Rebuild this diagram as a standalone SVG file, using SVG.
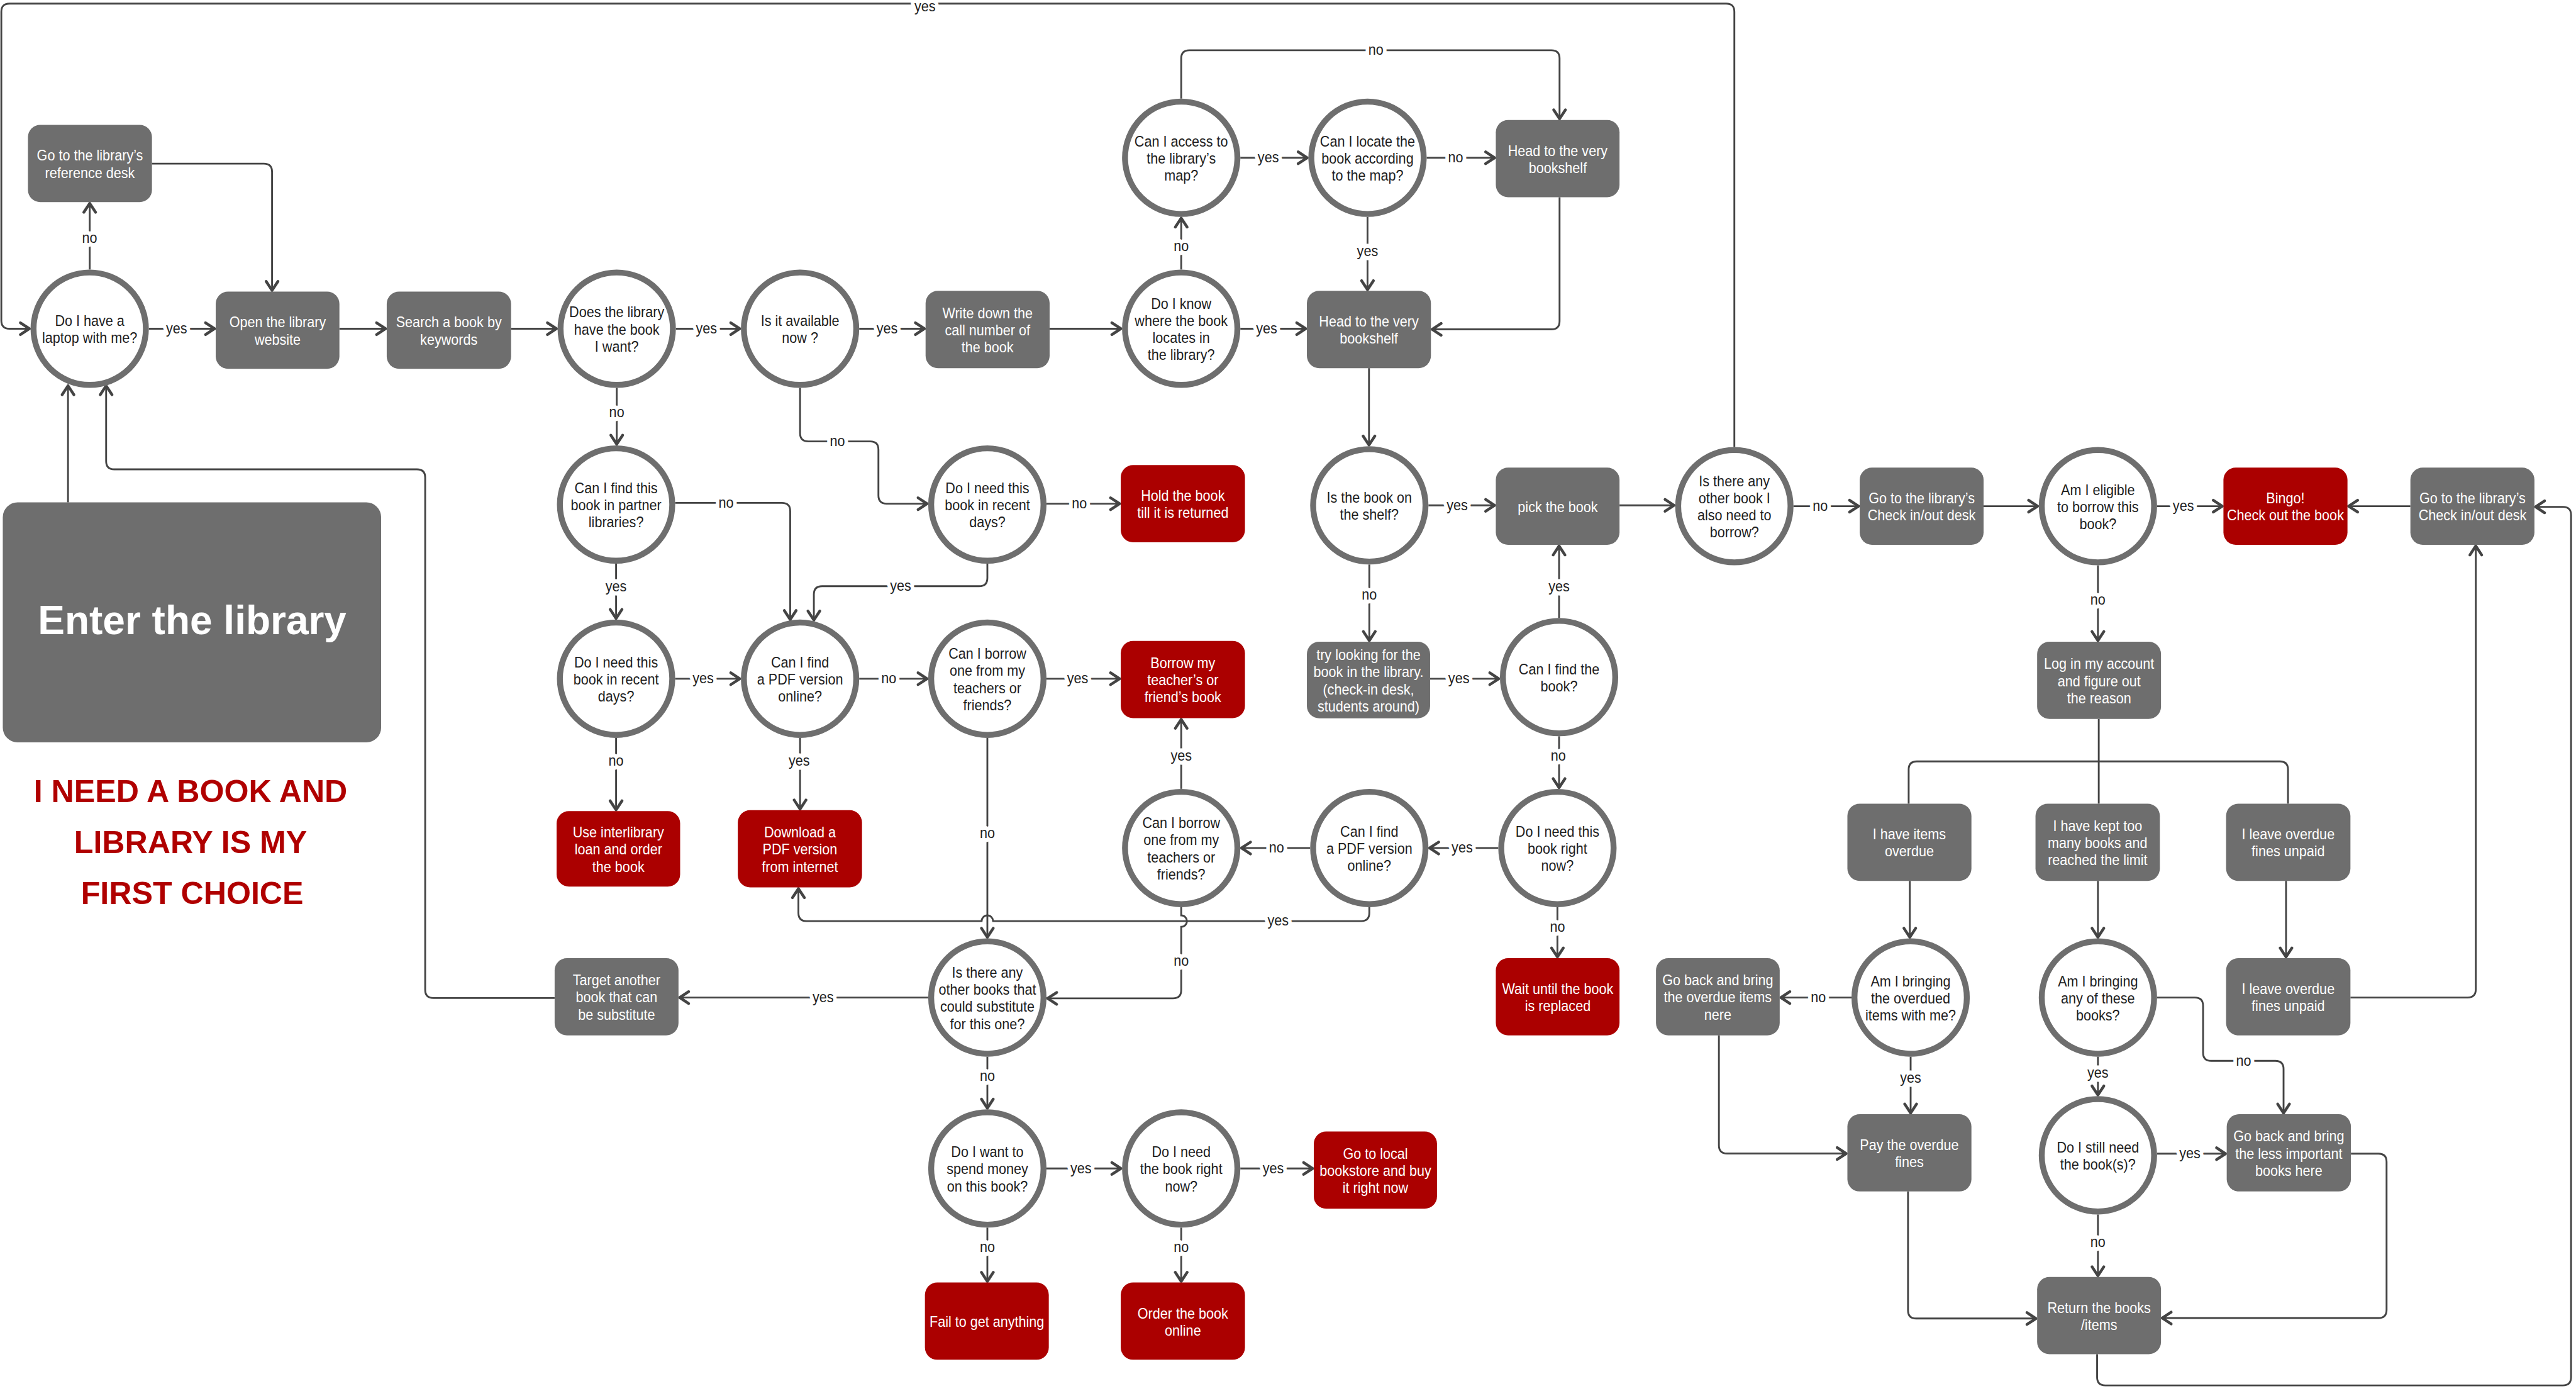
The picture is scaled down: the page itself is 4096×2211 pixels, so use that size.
<svg xmlns="http://www.w3.org/2000/svg" width="4096" height="2211" viewBox="0 0 4096 2211">
<style>
.c{fill:none;stroke:#444;stroke-width:1.1;marker-end:url(#ah)}
.p{fill:none;stroke:#444;stroke-width:1.1}
.g{fill:#6e6e6e}
.r{fill:#ab0000}
.q{fill:#fff;stroke:#6e6e6e;stroke-width:3.6}
text{font-family:"Liberation Sans",Arial,sans-serif;font-size:9.4px;text-anchor:middle}
.w,.k,.lb{transform-box:fill-box;transform-origin:center;transform:scaleX(0.88)}
.w{fill:#fff}
.k{fill:#1e1e1e}
.lb{fill:#222;stroke:#fff;stroke-width:5;stroke-linejoin:round;paint-order:stroke}
.t1{font-weight:bold;font-size:24.5px;fill:#fff}
.t2{font-weight:bold;font-size:19.2px;fill:#b00000}
</style>
<defs>
<marker id="ah" markerUnits="userSpaceOnUse" markerWidth="12" markerHeight="12" viewBox="-3 -6 12 12" refX="6.2" refY="0" orient="auto" overflow="visible">
<path d="M0,-3.6 L5.5,0 L0,3.6" fill="none" stroke="#444" stroke-width="1.7" stroke-linejoin="round" stroke-linecap="round"/>
</marker>
</defs>
<rect width="4096" height="2211" fill="#fff"/>
<g transform="scale(2.61224)">
<g id="connectors">
<path class="c" d="M90.6,200 H131.3"/>
<path class="c" d="M54.6,164 V123"/>
<path class="c" d="M92.5,99.6 H160.6 Q165.6,99.6 165.6,104.6 V177.4"/>
<path class="c" d="M206.6,200 H235.4"/>
<path class="c" d="M311.1,200 H339.4"/>
<path class="c" d="M411.4,200 H451"/>
<path class="c" d="M523,200 H563.4"/>
<path class="c" d="M638.9,200 H683"/>
<path class="c" d="M719,164 V132"/>
<path class="c" d="M755,96 H796.4"/>
<path class="c" d="M719,60 V35.6 Q719,30.6 724,30.6 H944.3 Q949.3,30.6 949.3,35.6 V73"/>
<path class="c" d="M868.4,96 H910.5"/>
<path class="c" d="M832.4,132 V177"/>
<path class="c" d="M755,200 H795.5"/>
<path class="c" d="M949.3,120 V195.4 Q949.3,200.4 944.3,200.4 H871"/>
<path class="c" d="M833.3,224 V271.5"/>
<path class="c" d="M869.5,307.5 H910.5"/>
<path class="c" d="M985.8,307.5 H1019.7"/>
<path class="c" d="M1055.7,272 V7.2 Q1055.7,2.2 1050.7,2.2 H5.8 Q0.8,2.2 0.8,7.2 V195 Q0.8,200 5.8,200 H18.6"/>
<path class="c" d="M1091.7,308 H1132"/>
<path class="c" d="M1207.4,308 H1241"/>
<path class="c" d="M1313,308 H1353.4"/>
<path class="c" d="M1467.2,308 H1428.9"/>
<path class="c" d="M1277,344 V390.5"/>
<path class="p" d="M1277.5,437.5 V489"/>
<path class="p" d="M1161.8,489 V468.3 Q1161.8,463.3 1166.8,463.3 H1387.7 Q1392.7,463.3 1392.7,468.3 V489"/>
<path class="c" d="M1162.5,536 V571"/>
<path class="c" d="M1277,536 V571"/>
<path class="c" d="M1391.5,536 V583"/>
<path class="c" d="M1127,607 H1083.3"/>
<path class="c" d="M1163,643 V678"/>
<path class="c" d="M1046.3,630 V696.9 Q1046.3,701.9 1051.3,701.9 H1124.5"/>
<path class="c" d="M1161.4,725 V797.3 Q1161.4,802.3 1166.4,802.3 H1240"/>
<path class="c" d="M1277,643 V667"/>
<path class="c" d="M1313,607 H1336 Q1341,607 1341,612 V640.5 Q1341,645.5 1346,645.5 H1385 Q1390,645.5 1390,650.5 V678"/>
<path class="c" d="M1313,702 H1355.4"/>
<path class="c" d="M1431,702 H1447.7 Q1452.7,702 1452.7,707 V797 Q1452.7,802 1447.7,802 H1315.4"/>
<path class="c" d="M1277,739 V777"/>
<path class="c" d="M1276.5,824 V838 Q1276.5,843 1281.5,843 H1560 Q1565,843 1565,838 V313.4 Q1565,308.4 1560,308.4 H1542.7"/>
<path class="c" d="M1430.7,607 H1502 Q1507,607 1507,602 V331.5"/>
<path class="c" d="M375.4,236 V271"/>
<path class="c" d="M375,343 V377"/>
<path class="c" d="M411,306 H476 Q481,306 481,311 V377.7"/>
<path class="c" d="M411,413 H451"/>
<path class="c" d="M375,449 V493.5"/>
<path class="c" d="M487,236 V263.6 Q487,268.6 492,268.6 H529.7 Q534.7,268.6 534.7,273.6 V301.5 Q534.7,306.5 539.7,306.5 H565"/>
<path class="c" d="M637,306.5 H682.2"/>
<path class="c" d="M601,343 V351.7 Q601,356.7 596,356.7 H500.4 Q495.4,356.7 495.4,361.7 V378"/>
<path class="c" d="M523,413 H565"/>
<path class="c" d="M637,413 H682.2"/>
<path class="c" d="M487,449 V493"/>
<path class="c" d="M601,449 V571"/>
<path class="c" d="M833.5,552 V555.5 Q833.5,560.5 828.5,560.5 H604.5 A3.5,3.5 0 0 0 597.5,560.5 H491 Q486,560.5 486,555.5 V540"/>
<path class="c" d="M719,552 V557 A3.5,3.5 0 0 1 719,564 V602.5 Q719,607.5 714,607.5 H637"/>
<path class="c" d="M719,480 V437"/>
<path class="c" d="M797.5,516 H755"/>
<path class="c" d="M912,516 H869.5"/>
<path class="c" d="M949,448 V480"/>
<path class="c" d="M948,552 V583"/>
<path class="c" d="M949,376 V331.5"/>
<path class="c" d="M833.5,343.5 V390.5"/>
<path class="c" d="M870.5,413 H913"/>
<path class="c" d="M565,607 H413"/>
<path class="c" d="M337.6,607.3 H263.8 Q258.8,607.3 258.8,602.3 V290.6 Q258.8,285.6 253.8,285.6 H69.6 Q64.6,285.6 64.6,280.6 V234"/>
<path class="c" d="M41.4,305.7 V234"/>
<path class="c" d="M601,643 V675"/>
<path class="c" d="M637,711 H683"/>
<path class="c" d="M755,711 H799.7"/>
<path class="c" d="M601,747 V780.4"/>
<path class="c" d="M719,747 V780.4"/>
<text class="lb" x="107.5" y="202.8">yes</text>
<text class="lb" x="54.6" y="147.8">no</text>
<text class="lb" x="430" y="202.8">yes</text>
<text class="lb" x="540" y="202.8">yes</text>
<text class="lb" x="719" y="152.8">no</text>
<text class="lb" x="772" y="98.8">yes</text>
<text class="lb" x="837.5" y="33.4">no</text>
<text class="lb" x="886" y="98.8">no</text>
<text class="lb" x="832.4" y="155.8">yes</text>
<text class="lb" x="771" y="202.8">yes</text>
<text class="lb" x="887" y="310.3">yes</text>
<text class="lb" x="563" y="7">yes</text>
<text class="lb" x="1108" y="310.8">no</text>
<text class="lb" x="1329" y="310.8">yes</text>
<text class="lb" x="1277" y="367.8">no</text>
<text class="lb" x="1106.8" y="609.8">no</text>
<text class="lb" x="1163" y="658.8">yes</text>
<text class="lb" x="1277" y="655.8">yes</text>
<text class="lb" x="1365.7" y="648.3">no</text>
<text class="lb" x="1333" y="704.8">yes</text>
<text class="lb" x="1277" y="758.8">no</text>
<text class="lb" x="375.4" y="253.8">no</text>
<text class="lb" x="375" y="359.8">yes</text>
<text class="lb" x="442" y="308.8">no</text>
<text class="lb" x="428" y="415.8">yes</text>
<text class="lb" x="375" y="465.8">no</text>
<text class="lb" x="509.7" y="271.4">no</text>
<text class="lb" x="657" y="309.3">no</text>
<text class="lb" x="548.2" y="359.5">yes</text>
<text class="lb" x="541" y="415.8">no</text>
<text class="lb" x="656" y="415.8">yes</text>
<text class="lb" x="486.5" y="465.8">yes</text>
<text class="lb" x="601" y="509.8">no</text>
<text class="lb" x="778" y="563.3">yes</text>
<text class="lb" x="719" y="587.8">no</text>
<text class="lb" x="719" y="462.8">yes</text>
<text class="lb" x="777" y="518.8">no</text>
<text class="lb" x="890" y="518.8">yes</text>
<text class="lb" x="948.5" y="462.8">no</text>
<text class="lb" x="948" y="566.8">no</text>
<text class="lb" x="949" y="359.8">yes</text>
<text class="lb" x="833.5" y="364.8">no</text>
<text class="lb" x="888" y="415.8">yes</text>
<text class="lb" x="501" y="609.8">yes</text>
<text class="lb" x="601" y="657.8">no</text>
<text class="lb" x="658" y="713.8">yes</text>
<text class="lb" x="775" y="713.8">yes</text>
<text class="lb" x="601" y="761.8">no</text>
<text class="lb" x="719" y="761.8">no</text>
</g>
<g id="enter"><rect class="g" x="1.7" y="305.7" width="230.3" height="146" rx="9"/><text class="t1" x="117" y="386">Enter the library</text></g>
<g id="title"><text class="t2" x="116" y="488">I NEED A BOOK AND</text><text class="t2" x="116" y="519">LIBRARY IS MY</text><text class="t2" x="117" y="550">FIRST CHOICE</text></g>
<g id="ref"><rect class="g" x="17" y="76" width="75.5" height="47" rx="7.5"/><text class="w" x="54.75" y="97.8">Go to the library’s<tspan x="54.75" dy="10.4">reference desk</tspan></text></g>
<g id="open"><rect class="g" x="131.3" y="177.4" width="75.3" height="47" rx="7.5"/><text class="w" x="169" y="199.2">Open the library<tspan x="169" dy="10.4">website</tspan></text></g>
<g id="search"><rect class="g" x="235.4" y="177.4" width="75.7" height="47" rx="7.5"/><text class="w" x="273.2" y="199.2">Search a book by<tspan x="273.2" dy="10.4">keywords</tspan></text></g>
<g id="write"><rect class="g" x="563.4" y="177" width="75.5" height="47" rx="7.5"/><text class="w" x="601.1" y="193.6">Write down the<tspan x="601.1" dy="10.4">call number of</tspan><tspan x="601.1" dy="10.4">the book</tspan></text></g>
<g id="headT"><rect class="g" x="910.5" y="73" width="75.3" height="47" rx="7.5"/><text class="w" x="948.2" y="94.8">Head to the very<tspan x="948.2" dy="10.4">bookshelf</tspan></text></g>
<g id="headM"><rect class="g" x="795.5" y="177" width="75.5" height="47" rx="7.5"/><text class="w" x="833.2" y="198.8">Head to the very<tspan x="833.2" dy="10.4">bookshelf</tspan></text></g>
<g id="pick"><rect class="g" x="910.5" y="284.5" width="75.3" height="47" rx="7.5"/><text class="w" x="948.2" y="311.5">pick the book</text></g>
<g id="ckA"><rect class="g" x="1132" y="284.5" width="75.4" height="47" rx="7.5"/><text class="w" x="1169.7" y="306.3">Go to the library’s<tspan x="1169.7" dy="10.4">Check in/out desk</tspan></text></g>
<g id="bingo"><rect class="r" x="1353.4" y="284.5" width="75.5" height="47" rx="7.5"/><text class="w" x="1391.1" y="306.3">Bingo!<tspan x="1391.1" dy="10.4">Check out the book</tspan></text></g>
<g id="ckB"><rect class="g" x="1467.2" y="284.5" width="75.5" height="47" rx="7.5"/><text class="w" x="1505" y="306.3">Go to the library’s<tspan x="1505" dy="10.4">Check in/out desk</tspan></text></g>
<g id="log"><rect class="g" x="1240" y="390.5" width="75.4" height="47" rx="7.5"/><text class="w" x="1277.7" y="407.1">Log in my account<tspan x="1277.7" dy="10.4">and figure out</tspan><tspan x="1277.7" dy="10.4">the reason</tspan></text></g>
<g id="items"><rect class="g" x="1124.5" y="489" width="75.5" height="47" rx="7.5"/><text class="w" x="1162.2" y="510.8">I have items<tspan x="1162.2" dy="10.4">overdue</tspan></text></g>
<g id="kept"><rect class="g" x="1239" y="489" width="75.7" height="47" rx="7.5"/><text class="w" x="1276.8" y="505.6">I have kept too<tspan x="1276.8" dy="10.4">many books and</tspan><tspan x="1276.8" dy="10.4">reached the limit</tspan></text></g>
<g id="leaveU"><rect class="g" x="1355" y="489" width="75.7" height="47" rx="7.5"/><text class="w" x="1392.8" y="510.8">I leave overdue<tspan x="1392.8" dy="10.4">fines unpaid</tspan></text></g>
<g id="goback1"><rect class="g" x="1008" y="583" width="75.3" height="47" rx="7.5"/><text class="w" x="1045.6" y="599.6">Go back and bring<tspan x="1045.6" dy="10.4">the overdue items</tspan><tspan x="1045.6" dy="10.4">nere</tspan></text></g>
<g id="pay"><rect class="g" x="1124.5" y="678" width="75.5" height="47" rx="7.5"/><text class="w" x="1162.2" y="699.8">Pay the overdue<tspan x="1162.2" dy="10.4">fines</tspan></text></g>
<g id="leaveL"><rect class="g" x="1355" y="583" width="75.7" height="47" rx="7.5"/><text class="w" x="1392.8" y="604.8">I leave overdue<tspan x="1392.8" dy="10.4">fines unpaid</tspan></text></g>
<g id="goback2"><rect class="g" x="1355.4" y="678" width="75.6" height="47" rx="7.5"/><text class="w" x="1393.2" y="694.6">Go back and bring<tspan x="1393.2" dy="10.4">the less important</tspan><tspan x="1393.2" dy="10.4">books here</tspan></text></g>
<g id="return"><rect class="g" x="1240" y="777" width="75.4" height="47" rx="7.5"/><text class="w" x="1277.7" y="798.8">Return the books<tspan x="1277.7" dy="10.4">/items</tspan></text></g>
<g id="interlib"><rect class="r" x="338.8" y="493.5" width="75.2" height="46" rx="7.5"/><text class="w" x="376.4" y="509.6">Use interlibrary<tspan x="376.4" dy="10.4">loan and order</tspan><tspan x="376.4" dy="10.4">the book</tspan></text></g>
<g id="download"><rect class="r" x="449.1" y="493" width="75.6" height="47" rx="7.5"/><text class="w" x="486.9" y="509.6">Download a<tspan x="486.9" dy="10.4">PDF version</tspan><tspan x="486.9" dy="10.4">from internet</tspan></text></g>
<g id="hold"><rect class="r" x="682.2" y="283" width="75.6" height="47" rx="7.5"/><text class="w" x="720" y="304.8">Hold the book<tspan x="720" dy="10.4">till  it is returned</tspan></text></g>
<g id="borrow"><rect class="r" x="682.2" y="390" width="75.6" height="47" rx="7.5"/><text class="w" x="720" y="406.6">Borrow my<tspan x="720" dy="10.4">teacher’s or</tspan><tspan x="720" dy="10.4">friend’s book</tspan></text></g>
<g id="try"><rect class="g" x="795.5" y="390.5" width="75" height="46.6" rx="7.5"/><text class="w" x="833" y="401.7">try looking for the<tspan x="833" dy="10.4">book in the library.</tspan><tspan x="833" dy="10.4">(check-in desk,</tspan><tspan x="833" dy="10.4">students around)</tspan></text></g>
<g id="wait"><rect class="r" x="910.5" y="583" width="75.3" height="47" rx="7.5"/><text class="w" x="948.2" y="604.8">Wait until the book<tspan x="948.2" dy="10.4">is replaced</tspan></text></g>
<g id="target"><rect class="g" x="337.6" y="583" width="75.4" height="47" rx="7.5"/><text class="w" x="375.3" y="599.6">Target another<tspan x="375.3" dy="10.4">book that can</tspan><tspan x="375.3" dy="10.4">be substitute</tspan></text></g>
<g id="bookstore"><rect class="r" x="799.7" y="688.5" width="75" height="47" rx="7.5"/><text class="w" x="837.2" y="705.1">Go to local<tspan x="837.2" dy="10.4">bookstore and buy</tspan><tspan x="837.2" dy="10.4">it right now</tspan></text></g>
<g id="fail"><rect class="r" x="563" y="780.4" width="75.4" height="47" rx="7.5"/><text class="w" x="600.7" y="807.4">Fail to get anything</text></g>
<g id="order"><rect class="r" x="682.2" y="780.4" width="75.6" height="47" rx="7.5"/><text class="w" x="720" y="802.2">Order the book<tspan x="720" dy="10.4">online</tspan></text></g>
<g id="c1"><circle class="q" cx="54.6" cy="200" r="34.2"/><text class="k" x="54.6" y="198.3">Do I have a<tspan x="54.6" dy="10.4">laptop with me?</tspan></text></g>
<g id="c2"><circle class="q" cx="375.4" cy="200" r="34.2"/><text class="k" x="375.4" y="193.1">Does the library<tspan x="375.4" dy="10.4">have the book</tspan><tspan x="375.4" dy="10.4">I want?</tspan></text></g>
<g id="c3"><circle class="q" cx="487" cy="200" r="34.2"/><text class="k" x="487" y="198.3">Is it available<tspan x="487" dy="10.4">now ?</tspan></text></g>
<g id="c4"><circle class="q" cx="719" cy="200" r="34.2"/><text class="k" x="719" y="187.9">Do I know<tspan x="719" dy="10.4">where the book</tspan><tspan x="719" dy="10.4">locates in</tspan><tspan x="719" dy="10.4">the library?</tspan></text></g>
<g id="c5"><circle class="q" cx="719" cy="96" r="34.2"/><text class="k" x="719" y="89.1">Can I access to<tspan x="719" dy="10.4">the library’s</tspan><tspan x="719" dy="10.4">map?</tspan></text></g>
<g id="c6"><circle class="q" cx="832.4" cy="96" r="34.2"/><text class="k" x="832.4" y="89.1">Can I locate the<tspan x="832.4" dy="10.4">book according</tspan><tspan x="832.4" dy="10.4">to the map?</tspan></text></g>
<g id="c7"><circle class="q" cx="833.5" cy="307.5" r="34.2"/><text class="k" x="833.5" y="305.8">Is the book on<tspan x="833.5" dy="10.4">the shelf?</tspan></text></g>
<g id="c8"><circle class="q" cx="1055.7" cy="308" r="34.2"/><text class="k" x="1055.7" y="295.9">Is there any<tspan x="1055.7" dy="10.4">other book I</tspan><tspan x="1055.7" dy="10.4">also need to</tspan><tspan x="1055.7" dy="10.4">borrow?</tspan></text></g>
<g id="c9"><circle class="q" cx="1277" cy="308" r="34.2"/><text class="k" x="1277" y="301.1">Am I eligible<tspan x="1277" dy="10.4">to borrow this</tspan><tspan x="1277" dy="10.4">book?</tspan></text></g>
<g id="c10"><circle class="q" cx="1163" cy="607" r="34.2"/><text class="k" x="1163" y="600.1">Am I bringing<tspan x="1163" dy="10.4">the overdued</tspan><tspan x="1163" dy="10.4">items with me?</tspan></text></g>
<g id="c11"><circle class="q" cx="1277" cy="607" r="34.2"/><text class="k" x="1277" y="600.1">Am I bringing<tspan x="1277" dy="10.4">any of these</tspan><tspan x="1277" dy="10.4">books?</tspan></text></g>
<g id="c12"><circle class="q" cx="1277" cy="703" r="34.2"/><text class="k" x="1277" y="701.3">Do I still need<tspan x="1277" dy="10.4">the book(s)?</tspan></text></g>
<g id="c13"><circle class="q" cx="375" cy="307" r="34.2"/><text class="k" x="375" y="300.1">Can I find this<tspan x="375" dy="10.4">book in partner</tspan><tspan x="375" dy="10.4">libraries?</tspan></text></g>
<g id="c14"><circle class="q" cx="375" cy="413" r="34.2"/><text class="k" x="375" y="406.1">Do I need this<tspan x="375" dy="10.4">book in recent</tspan><tspan x="375" dy="10.4">days?</tspan></text></g>
<g id="c15"><circle class="q" cx="487" cy="413" r="34.2"/><text class="k" x="487" y="406.1">Can I find<tspan x="487" dy="10.4">a PDF version</tspan><tspan x="487" dy="10.4">online?</tspan></text></g>
<g id="c16"><circle class="q" cx="601" cy="307" r="34.2"/><text class="k" x="601" y="300.1">Do I need this<tspan x="601" dy="10.4">book in recent</tspan><tspan x="601" dy="10.4">days?</tspan></text></g>
<g id="c17"><circle class="q" cx="601" cy="413" r="34.2"/><text class="k" x="601" y="400.9">Can I borrow<tspan x="601" dy="10.4">one from my</tspan><tspan x="601" dy="10.4">teachers or</tspan><tspan x="601" dy="10.4">friends?</tspan></text></g>
<g id="c18"><circle class="q" cx="601" cy="607" r="34.2"/><text class="k" x="601" y="594.9">Is there any<tspan x="601" dy="10.4">other books that</tspan><tspan x="601" dy="10.4">could substitute</tspan><tspan x="601" dy="10.4">for this one?</tspan></text></g>
<g id="c19"><circle class="q" cx="601" cy="711" r="34.2"/><text class="k" x="601" y="704.1">Do I want to<tspan x="601" dy="10.4">spend money</tspan><tspan x="601" dy="10.4">on this book?</tspan></text></g>
<g id="c20"><circle class="q" cx="833.5" cy="516" r="34.2"/><text class="k" x="833.5" y="509.1">Can I find<tspan x="833.5" dy="10.4">a PDF version</tspan><tspan x="833.5" dy="10.4">online?</tspan></text></g>
<g id="c21"><circle class="q" cx="719" cy="516" r="34.2"/><text class="k" x="719" y="503.9">Can I borrow<tspan x="719" dy="10.4">one from my</tspan><tspan x="719" dy="10.4">teachers or</tspan><tspan x="719" dy="10.4">friends?</tspan></text></g>
<g id="c22"><circle class="q" cx="948" cy="516" r="34.2"/><text class="k" x="948" y="509.1">Do I need this<tspan x="948" dy="10.4">book right</tspan><tspan x="948" dy="10.4">now?</tspan></text></g>
<g id="c23"><circle class="q" cx="949" cy="412" r="34.2"/><text class="k" x="949" y="410.3">Can I find the<tspan x="949" dy="10.4">book?</tspan></text></g>
<g id="c24"><circle class="q" cx="719" cy="711" r="34.2"/><text class="k" x="719" y="704.1">Do I need<tspan x="719" dy="10.4">the book right</tspan><tspan x="719" dy="10.4">now?</tspan></text></g>
</g>
</svg>
